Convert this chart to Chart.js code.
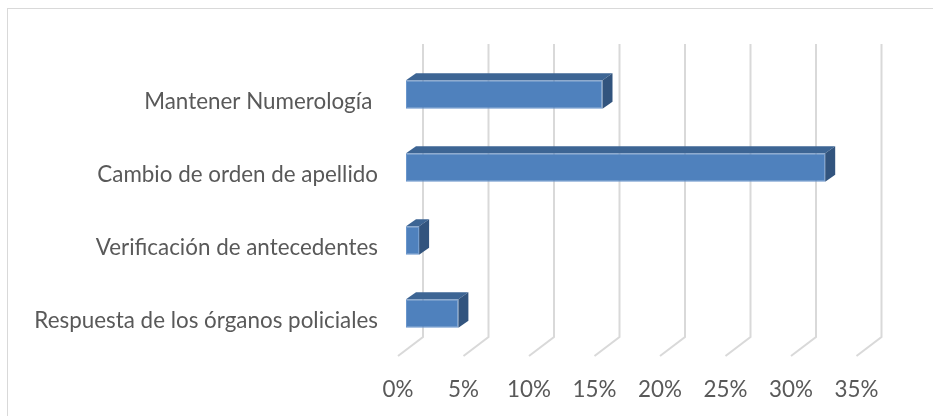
<!DOCTYPE html>
<html>
<head>
<meta charset="utf-8">
<script src="https://cdn.jsdelivr.net/npm/chart.js@4"></script>
<style>
  body { margin: 0; background: #fff; }
  canvas { display: block; }
</style>
</head>
<body>
<canvas id="chart" width="933" height="416"></canvas>
<script>
// data (percent)
const categories = ['Mantener Numerología ', 'Cambio de orden de apellido', 'Verificación de antecedentes', 'Respuesta de los órganos policiales'];
const values = [15, 32, 1, 4];
const xTicks = [0, 5, 10, 15, 20, 25, 30, 35];

// 3d look: depth of bar extrusion and of the back wall
const barDepth = { dx: 10, dy: -7 };
const wallBack = { dx: 17, dy: -14 };
const wallFront = { dx: -8, dy: 6 };

const frameBorder = {
    id: 'frameBorder',
    beforeDraw(chart) {
        const c = chart.ctx;
        c.save();
        c.fillStyle = '#fff';
        c.fillRect(0, 0, chart.width, chart.height);
        c.strokeStyle = '#d9d9d9';
        c.lineWidth = 1;
        c.strokeRect(7.5, 8.5, chart.width + 20, chart.height + 20);
        c.restore();
    }
};

const wallGrid = {
    id: 'wallGrid',
    beforeDatasetsDraw(chart) {
        const c = chart.ctx;
        const area = chart.chartArea;
        const xs = chart.scales.x;
        c.save();
        c.strokeStyle = '#d9d9d9';
        c.lineWidth = 2;
        xs.ticks.forEach(t => {
            const px = xs.getPixelForValue(t.value);
            c.beginPath();
            c.moveTo(px + wallBack.dx, area.top + wallBack.dy);
            c.lineTo(px + wallBack.dx, area.bottom + wallBack.dy + 1);
            c.lineTo(px + wallFront.dx, area.bottom + wallFront.dy);
            c.stroke();
        });
        c.restore();
    }
};

const bars3d = {
    id: 'bars3d',
    afterDatasetsDraw(chart) {
        const c = chart.ctx;
        const meta = chart.getDatasetMeta(0);
        c.save();
        meta.data.forEach(bar => {
            const p = bar.getProps(['x', 'y', 'base', 'height'], true);
            const top = p.y - p.height / 2;
            const bot = p.y + p.height / 2;
            // top face
            c.fillStyle = '#3d6594';
            c.beginPath();
            c.moveTo(p.base, top);
            c.lineTo(p.x, top);
            c.lineTo(p.x + barDepth.dx, top + barDepth.dy);
            c.lineTo(p.base + barDepth.dx, top + barDepth.dy);
            c.closePath();
            c.fill();
            // end face
            c.fillStyle = '#32547e';
            c.beginPath();
            c.moveTo(p.x, top);
            c.lineTo(p.x + barDepth.dx, top + barDepth.dy);
            c.lineTo(p.x + barDepth.dx, bot + barDepth.dy);
            c.lineTo(p.x, bot);
            c.closePath();
            c.fill();
        });
        c.restore();
    }
};

const font = { family: 'Lato', size: 22.4 };

new Chart(document.getElementById('chart'), {
    type: 'bar',
    data: {
        labels: categories,
        datasets: [{
            data: values,
            backgroundColor: '#4f81bd',
            borderColor: '#6a96cc',
            borderWidth: 1,
            borderSkipped: false,
            categoryPercentage: 1,
            barPercentage: 0.39
        }]
    },
    plugins: [frameBorder, wallGrid, bars3d],
    options: {
        indexAxis: 'y',
        responsive: false,
        animation: false,
        layout: { padding: { left: 0, top: 58, right: 68.5, bottom: 0 } },
        plugins: {
            legend: { display: false },
            tooltip: { enabled: false }
        },
        scales: {
            x: {
                min: 0,
                max: 35,
                afterBuildTicks: s => { s.ticks = xTicks.map(v => ({ value: v })); },
                afterFit: s => { s.height = 66; },
                grid: { display: false },
                border: { display: false },
                ticks: {
                    color: '#595959',
                    font: font,
                    padding: 18,
                    labelOffset: wallFront.dx,
                    maxRotation: 0,
                    callback: v => v + '%'
                }
            },
            y: {
                afterFit: s => { s.width = 406; },
                grid: { display: false, drawTicks: false },
                border: { display: false },
                ticks: {
                    color: '#595959',
                    font: font,
                    padding: 28,
                    labelOffset: 7
                }
            }
        }
    }
});
</script>
</body>
</html>
